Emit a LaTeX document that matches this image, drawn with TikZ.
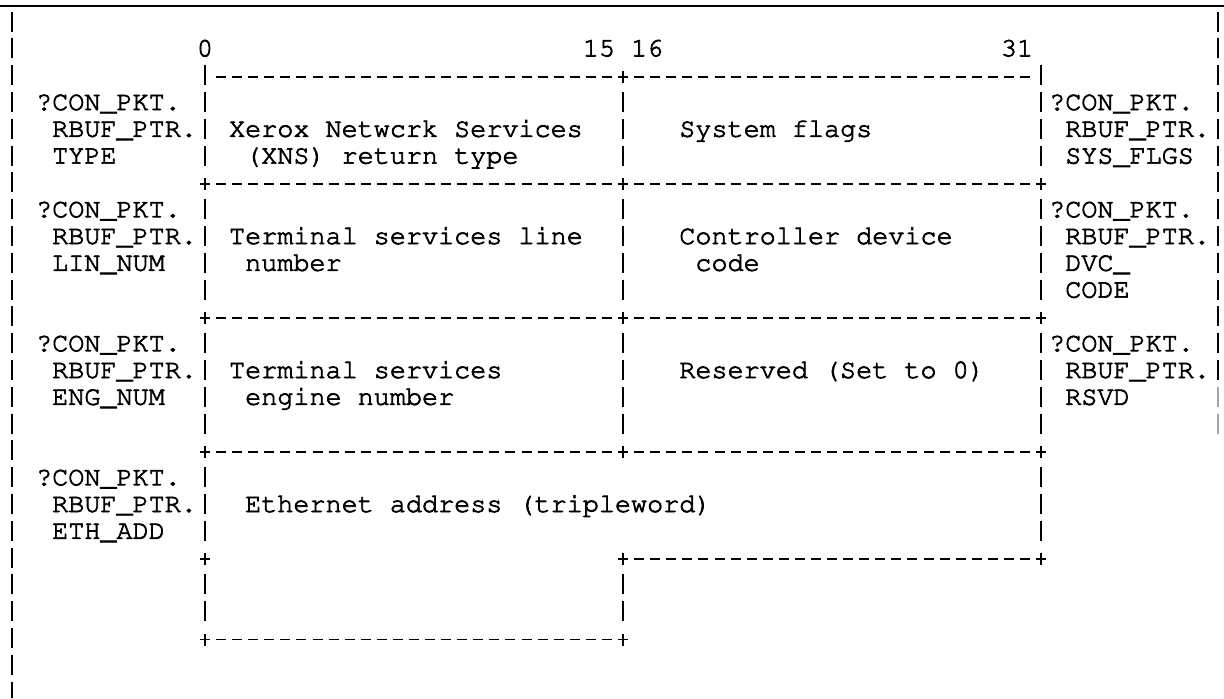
\documentclass[tikz,border=0pt]{standalone}
\usepackage[T1]{fontenc}
\usepackage{courier}
\tikzset{
  cell/.style={inner sep=0pt, outer sep=0pt, anchor=base west,
    font=\ttfamily\fontsize{13.4}{13.4}\selectfont},
  glyph/.style={line width=0.9pt, line cap=butt, black},
  barcol/.style={glyph, dash pattern=on 10pt off 3.4pt},
  vrun/.style={barcol, shorten <=7.65pt, shorten >=9.15pt},
  vruntop/.style={vrun, shorten <=-5.75pt},
  hrun/.style={glyph, dash pattern=on 5pt off 3.04pt, shorten <=5.54pt, shorten >=5.54pt},
}
% typewriter text, stroked slightly for a heavier print
\newcommand\heavy[1]{\special{pdf:literal direct 2 Tr 0.35 w}#1\special{pdf:literal direct 0 Tr}}
% one typed line of text: name, column, line, text
\newcommand\txt[4]{\node[cell] (#1) at ({16.08*#2+3.96},{26.8*#3+29.6}) {\heavy{#4}};}
% a "+" junction mark on a named coordinate (name given without parentheses)
\newcommand\plusmark[1]{\draw[glyph] ([xshift=-2.6pt]#1) -- ([xshift=2.6pt]#1)
  ([yshift=-3pt]#1) -- ([yshift=3pt]#1);}
\begin{document}
\begin{tikzpicture}[x=0.5pt,y=-0.5pt]
\fill[white] (0,0) rectangle (1224,698);
\useasboundingbox (0,0) rectangle (1224,698);

% frame: top rule and the two side borders
\coordinate (rule-l) at (0,6);
\coordinate (rule-r) at (1224,6);
\draw[line width=1pt] (rule-l) -- (rule-r);
\coordinate (fl-top) at (12,11.6);
\coordinate (fl-bot) at (12,698);
\draw[barcol] (fl-top) -- (fl-bot);
\coordinate (fr-top) at (1218,11.6);
\coordinate (fr-mid) at (1218,380);
\coordinate (fr-low) at (1218,386.8);
\coordinate (fr-bot) at (1218,433.6);
\draw[barcol] (fr-top) -- (fr-mid);
\draw[barcol, black!35] (fr-low) -- (fr-bot);

% junction points of the word layout (columns 12, 38, 64)
\foreach \c in {12,38,64}
  \foreach \k in {2,6,11,16,20,23}
    \coordinate (j\c-\k) at ({16.08*\c+12},{26.8*\k+29.6-6.5});

% horizontal dashed edges
\foreach \k in {2,6,11,16} {
  \draw[hrun] (j12-\k) -- (j38-\k);
  \draw[hrun] (j38-\k) -- (j64-\k);
}
\draw[hrun] (j38-20) -- (j64-20);
\draw[hrun] (j12-23) -- (j38-23);

% vertical edges
\draw[vruntop] (j12-2) -- (j12-6);
\draw[vrun] (j38-2) -- (j38-6);
\draw[vruntop] (j64-2) -- (j64-6);
\foreach \c in {12,38,64} {
  \draw[vrun] (j\c-6) -- (j\c-11);
  \draw[vrun] (j\c-11) -- (j\c-16);
}
\draw[vrun] (j12-16) -- (j12-20);
\draw[vrun] (j64-16) -- (j64-20);
\draw[vrun] (j12-20) -- (j12-23);
\draw[vrun] (j38-20) -- (j38-23);

% corner marks
\plusmark{j38-2}
\foreach \k in {6,11,16,20} {
  \plusmark{j12-\k}
  \plusmark{j38-\k}
  \plusmark{j64-\k}
}
\plusmark{j12-23}
\plusmark{j38-23}

% bit numbers
\txt{h0}{12}{1}{0}
\txt{h15}{36}{1}{15}
\txt{h16}{39}{1}{16}
\txt{h31}{62}{1}{31}

% word 1
\txt{typeA}{2}{3}{?CON\_PKT.}
\txt{typeB}{3}{4}{RBUF\_PTR.}
\txt{typeC}{3}{5}{TYPE}
\txt{xnsA}{14}{4}{Xerox Netwcrk Services}
\txt{xnsB}{15}{5}{(XNS) return type}
\txt{flg}{42}{4}{System flags}
\txt{flgA}{65}{3}{?CON\_PKT.}
\txt{flgB}{66}{4}{RBUF\_PTR.}
\txt{flgC}{66}{5}{SYS\_FLGS}

% word 2
\txt{linA}{2}{7}{?CON\_PKT.}
\txt{linB}{3}{8}{RBUF\_PTR.}
\txt{linC}{3}{9}{LIN\_NUM}
\txt{lineA}{14}{8}{Terminal services line}
\txt{lineB}{15}{9}{number}
\txt{dvcA}{42}{8}{Controller device}
\txt{dvcB}{43}{9}{code}
\txt{dvcC}{65}{7}{?CON\_PKT.}
\txt{dvcD}{66}{8}{RBUF\_PTR.}
\txt{dvcE}{66}{9}{DVC\_}
\txt{dvcF}{66}{10}{CODE}

% word 3
\txt{engA}{2}{12}{?CON\_PKT.}
\txt{engB}{3}{13}{RBUF\_PTR.}
\txt{engC}{3}{14}{ENG\_NUM}
\txt{engD}{14}{13}{Terminal services}
\txt{engE}{15}{14}{engine number}
\txt{rsvA}{42}{13}{Reserved (Set to 0)}
\txt{rsvB}{65}{12}{?CON\_PKT.}
\txt{rsvC}{66}{13}{RBUF\_PTR.}
\txt{rsvD}{66}{14}{RSVD}

% words 4 to 6
\txt{ethA}{2}{17}{?CON\_PKT.}
\txt{ethB}{3}{18}{RBUF\_PTR.}
\txt{ethC}{3}{19}{ETH\_ADD}
\txt{ethD}{15}{18}{Ethernet address (tripleword)}
\end{tikzpicture}
\end{document}
